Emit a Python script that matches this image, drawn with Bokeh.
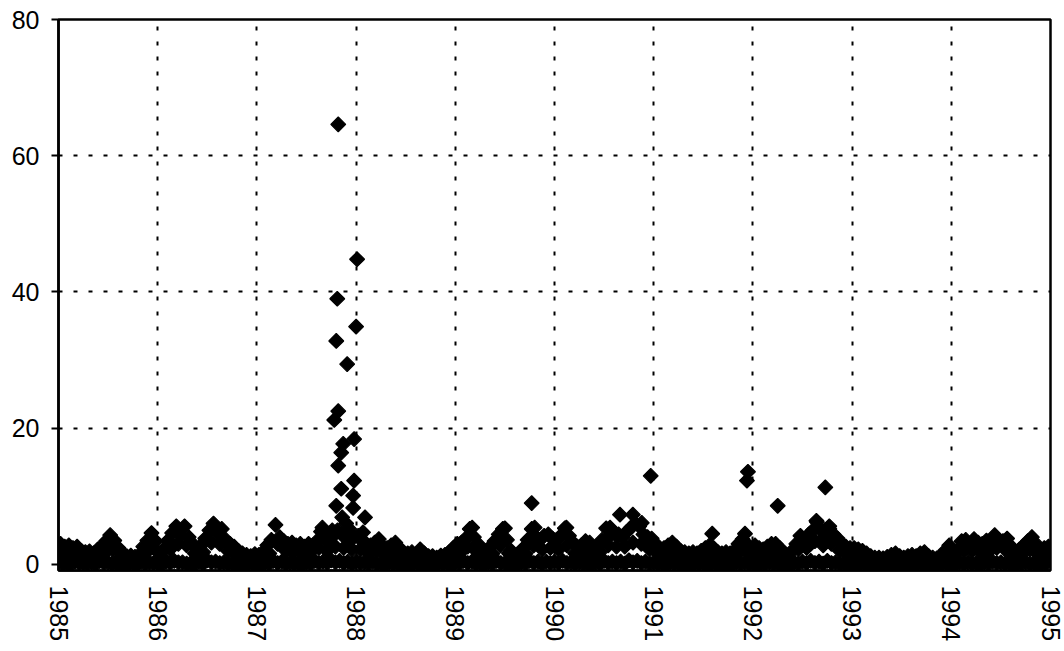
import numpy as np
from bokeh.plotting import figure
from bokeh.models import Range1d, FixedTicker
from bokeh.embed import file_html
from bokeh.resources import INLINE

# ---------------- data ----------------
start_year = 1985
years = list(range(1985, 1996))

# upper ridge of the dense cloud, two readings per month (1985 .. 1994)
ridge_vals = [
    3.0, 2.6, 2.8, 2.4, 2.6, 2.0, 1.8, 1.9, 1.6, 2.2, 2.6, 3.4, 4.3, 3.5, 2.4, 1.6, 1.2, 1.3, 1.1, 1.4, 2.6, 3.5, 4.6, 3.4,  # 1985
    1.6, 2.2, 3.5, 4.6, 5.6, 4.2, 5.6, 4.0, 3.0, 2.2, 2.8, 3.8, 5.0, 6.0, 4.5, 5.2, 3.6, 3.0, 2.6, 2.0, 1.6, 1.4, 1.2, 1.5,  # 1986
    1.4, 1.8, 2.8, 3.6, 5.8, 4.0, 3.4, 3.0, 3.2, 2.8, 3.0, 2.6, 3.0, 2.8, 3.4, 4.8, 3.8, 3.2, 4.2, 5.0, 4.4, 4.0, 3.6, 4.0,  # 1987
    4.2, 3.4, 3.0, 2.8, 3.2, 3.7, 2.6, 2.4, 2.8, 3.2, 2.4, 1.6, 1.6, 1.8, 1.4, 2.2, 1.6, 1.2, 1.2, 1.0, 1.3, 1.4, 1.8, 2.4,  # 1988
    3.0, 3.2, 3.8, 5.2, 4.0, 3.0, 2.2, 2.0, 2.6, 3.4, 4.4, 5.2, 3.6, 2.0, 1.2, 1.2, 2.4, 3.6, 5.2, 4.0, 3.6, 4.2, 4.4, 3.8,  # 1989
    3.6, 4.2, 5.3, 4.2, 3.2, 2.6, 2.8, 3.4, 3.2, 2.4, 2.6, 3.6, 5.3, 4.2, 4.6, 4.4, 4.0, 4.8, 5.4, 6.0, 5.6, 4.4, 4.0, 3.8,  # 1990
    3.0, 2.2, 2.4, 2.8, 3.2, 2.6, 2.0, 1.8, 1.6, 1.8, 1.6, 2.0, 2.4, 2.8, 2.4, 1.8, 1.6, 1.8, 1.6, 2.0, 3.0, 3.7, 3.0, 2.4,  # 1991
    2.8, 2.4, 2.2, 2.6, 3.0, 3.0, 2.4, 1.6, 1.2, 2.0, 3.0, 4.2, 3.6, 4.4, 5.0, 6.2, 5.0, 4.2, 5.2, 4.4, 3.8, 3.0, 2.6, 2.4,  # 1992
    2.4, 2.2, 2.0, 1.6, 1.2, 1.0, 1.0, 0.9, 1.1, 1.4, 1.6, 1.2, 1.0, 1.2, 1.4, 1.2, 1.6, 1.8, 1.2, 1.0, 0.9, 1.2, 2.0, 2.8,  # 1993
    1.2, 2.0, 3.4, 3.6, 3.0, 3.7, 3.2, 3.0, 3.5, 3.0, 4.3, 3.6, 3.4, 3.8, 2.6, 1.8, 2.2, 2.8, 3.4, 4.0, 3.0, 2.0, 2.4, 2.6,  # 1994
]

# typical mid-level readings, one per month
mid_vals = [
    1.6, 1.4, 1.2, 0.9, 1.0, 1.6, 2.2, 1.2, 0.8, 0.8, 1.6, 2.4,  # 1985
    1.0, 2.2, 3.0, 2.8, 1.6, 1.8, 3.2, 3.0, 2.0, 1.4, 0.9, 0.8,  # 1986
    0.8, 1.6, 3.0, 2.0, 1.8, 1.6, 1.8, 2.4, 2.0, 2.6, 2.4, 2.2,  # 1987
    2.2, 1.6, 2.0, 1.4, 1.6, 1.2, 0.9, 1.0, 0.8, 0.6, 0.7, 1.2,  # 1988
    1.6, 2.6, 2.0, 1.2, 1.6, 2.8, 1.6, 0.7, 1.6, 2.8, 2.2, 2.4,  # 1989
    2.2, 2.8, 1.6, 1.8, 1.4, 1.8, 2.8, 2.6, 2.6, 3.2, 3.0, 2.2,  # 1990
    1.6, 1.4, 1.6, 1.0, 0.9, 1.0, 1.4, 1.2, 0.9, 1.0, 2.0, 1.6,  # 1991
    1.4, 1.4, 1.8, 1.0, 0.8, 2.2, 2.4, 3.4, 2.8, 3.0, 2.0, 1.4,  # 1992
    1.2, 1.0, 0.6, 0.5, 0.6, 0.8, 0.6, 0.7, 0.9, 0.6, 0.5, 1.4,  # 1993
    0.8, 2.0, 2.0, 1.8, 1.8, 2.4, 2.2, 1.2, 1.4, 2.2, 1.4, 1.4,  # 1994
]

# low readings near zero, one per month
low_vals = [
    0.3, 0.2, 0.4, 0.2, 0.3, 0.5, 0.3, 0.2, 0.1, 0.2, 0.4, 0.3,  # 1985
    0.2, 0.4, 0.5, 0.3, 0.2, 0.4, 0.6, 0.4, 0.3, 0.2, 0.1, 0.2,  # 1986
    0.2, 0.3, 0.5, 0.4, 0.3, 0.2, 0.3, 0.5, 0.4, 0.6, 0.5, 0.4,  # 1987
    0.4, 0.3, 0.4, 0.2, 0.3, 0.2, 0.1, 0.2, 0.1, 0.1, 0.2, 0.2,  # 1988
    0.3, 0.5, 0.4, 0.2, 0.3, 0.5, 0.2, 0.1, 0.3, 0.5, 0.4, 0.4,  # 1989
    0.4, 0.5, 0.3, 0.3, 0.2, 0.3, 0.5, 0.4, 0.4, 0.6, 0.5, 0.4,  # 1990
    0.3, 0.2, 0.3, 0.2, 0.1, 0.2, 0.2, 0.2, 0.1, 0.2, 0.3, 0.3,  # 1991
    0.2, 0.2, 0.3, 0.2, 0.1, 0.3, 0.4, 0.5, 0.4, 0.5, 0.3, 0.2,  # 1992
    0.2, 0.2, 0.1, 0.1, 0.1, 0.1, 0.1, 0.1, 0.2, 0.1, 0.1, 0.2,  # 1993
    0.1, 0.3, 0.3, 0.2, 0.3, 0.4, 0.3, 0.2, 0.2, 0.3, 0.2, 0.2,  # 1994
]

# readings at (almost) zero, one per month
base_vals = [
    0.1, 0.0, 0.2, 0.1, 0.0, 0.2, 0.1, 0.0, 0.1, 0.0, 0.1, 0.2,  # 1985
    0.0, 0.2, 0.3, 0.1, 0.0, 0.1, 0.3, 0.2, 0.1, 0.0, 0.0, 0.1,  # 1986
    0.0, 0.1, 0.2, 0.1, 0.1, 0.0, 0.1, 0.2, 0.2, 0.3, 0.2, 0.1,  # 1987
    0.2, 0.1, 0.1, 0.0, 0.1, 0.0, 0.0, 0.1, 0.0, 0.0, 0.1, 0.0,  # 1988
    0.1, 0.2, 0.1, 0.0, 0.1, 0.2, 0.0, 0.0, 0.1, 0.2, 0.1, 0.2,  # 1989
    0.2, 0.2, 0.1, 0.1, 0.0, 0.1, 0.2, 0.2, 0.1, 0.3, 0.2, 0.1,  # 1990
    0.1, 0.0, 0.1, 0.0, 0.0, 0.1, 0.0, 0.1, 0.0, 0.0, 0.1, 0.1,  # 1991
    0.0, 0.1, 0.1, 0.0, 0.0, 0.1, 0.2, 0.2, 0.1, 0.2, 0.1, 0.0,  # 1992
    0.0, 0.1, 0.0, 0.0, 0.0, 0.0, 0.0, 0.0, 0.1, 0.0, 0.0, 0.1,  # 1993
    0.0, 0.1, 0.1, 0.0, 0.1, 0.2, 0.1, 0.0, 0.1, 0.1, 0.0, 0.1,  # 1994
]

# individual high readings (decimal year, value)
peak_t = [1987.82, 1988.01, 1987.81, 1988.00, 1987.80, 1987.91, 1987.82, 1987.78,
          1987.98, 1987.87, 1987.85, 1987.82, 1987.98, 1987.85, 1987.97, 1987.80,
          1987.97, 1988.09, 1988.07, 1987.86, 1987.66, 1987.90, 1987.93, 1987.76,
          1989.17, 1989.50, 1989.77, 1989.80, 1990.12, 1990.56, 1990.66, 1990.79,
          1990.88, 1990.97, 1991.59, 1991.92, 1991.94, 1991.95, 1992.25, 1992.64,
          1992.73, 1992.77, 1994.98, 1994.99, 1995.00]
peak_v = [64.6, 44.8, 39.0, 34.9, 32.8, 29.4, 22.5, 21.2,
          18.4, 17.7, 16.4, 14.5, 12.3, 11.1, 10.1, 8.6,
          8.3, 6.9, 4.7, 6.9, 5.4, 6.0, 5.2, 5.0,
          5.4, 5.3, 9.0, 5.4, 5.4, 5.4, 7.3, 7.3,
          6.1, 13.0, 4.5, 4.5, 12.3, 13.6, 8.6, 6.4,
          11.3, 5.6, 1.6, 0.8, 2.4]

y_ticks = [0, 20, 40, 60, 80]

# ---------------- positions of the regular readings ----------------
ridge_t = [start_year + (i + 0.5) / 24 for i in range(len(ridge_vals))]
mid_t = [start_year + (i + 0.5) / 12 for i in range(len(mid_vals))]
low_t = [start_year + i / 12 for i in range(len(low_vals))]
base_t = [start_year + (i + 0.5) / 12 for i in range(len(base_vals))]

all_t = base_t + low_t + mid_t + ridge_t + peak_t
all_v = base_vals + low_vals + mid_vals + ridge_vals + peak_v

FONT = "Liberation Sans"

p = figure(width=1063, height=645, output_backend="svg", toolbar_location=None,
           x_range=Range1d(1985, 1995), y_range=Range1d(-0.9, 80),
           min_border_left=58, min_border_right=13, min_border_top=19, min_border_bottom=75)
p.background_fill_color = "white"
p.border_fill_color = "white"
p.outline_line_color = "black"
p.outline_line_width = 2.5

p.scatter(all_t, all_v, marker="square", angle=np.pi / 4, size=10.5,
          fill_color="black", line_color="black", line_width=1.2)

# axes
p.xaxis.ticker = FixedTicker(ticks=years)
p.xaxis.major_label_overrides = {y: str(y) for y in years}
p.xaxis.major_label_orientation = "vertical"
p.xaxis.major_tick_out = 0
p.xaxis.major_tick_in = 0
p.xaxis.minor_tick_out = 0
p.xaxis.minor_tick_in = 0
p.xaxis.major_label_standoff = 15
p.xaxis.axis_line_color = "black"
p.xaxis.axis_line_width = 2.5

p.yaxis.ticker = FixedTicker(ticks=y_ticks)
p.yaxis.major_tick_out = 7
p.yaxis.major_tick_in = 0
p.yaxis.minor_tick_out = 0
p.yaxis.minor_tick_in = 0
p.yaxis.major_tick_line_width = 2
p.yaxis.major_label_standoff = 12
p.yaxis.axis_line_color = "black"
p.yaxis.axis_line_width = 2.5

for ax in (p.xaxis, p.yaxis):
    ax.major_label_text_font = FONT
    ax.major_label_text_font_size = "25px"
    ax.major_label_text_color = "black"

# grid
p.xgrid.ticker = FixedTicker(ticks=years[1:-1])
p.ygrid.ticker = FixedTicker(ticks=[20, 40, 60])
for g in (p.xgrid, p.ygrid):
    g.grid_line_color = "black"
    g.grid_line_dash = "4 11"
    g.grid_line_width = 2

open("out.html", "w").write(file_html(p, INLINE))
